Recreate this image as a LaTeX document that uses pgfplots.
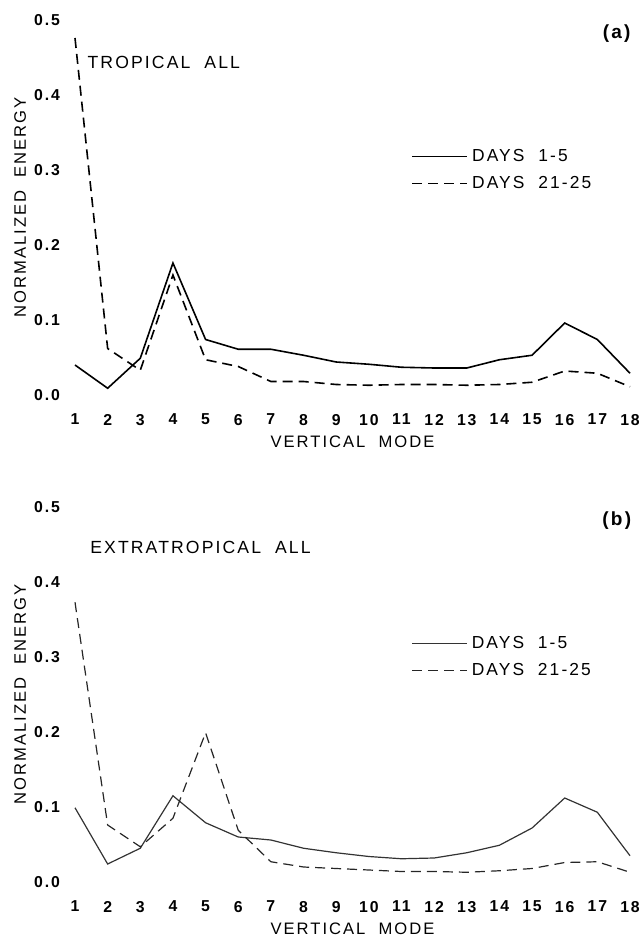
\documentclass[border=0pt]{standalone}
\usepackage{fontspec}
\setmainfont{Liberation Sans}
\newfontfamily\spaced{Liberation Sans}[LetterSpace=12, WordSpace=2]
\usepackage{pgfplots}
\pgfplotsset{compat=1.18}

% mode 1..18, normalized energy
\pgfplotstableread{
mode a15   a2125 b15   b2125
1    0.040 0.476 0.099 0.373
2    0.009 0.062 0.024 0.076
3    0.049 0.033 0.045 0.047
4    0.176 0.160 0.115 0.085
5    0.074 0.047 0.079 0.199
6    0.061 0.038 0.060 0.069
7    0.061 0.018 0.056 0.027
8    0.053 0.018 0.045 0.020
9    0.044 0.014 0.039 0.018
10   0.041 0.013 0.034 0.016
11   0.037 0.014 0.031 0.014
12   0.036 0.014 0.032 0.014
13   0.036 0.013 0.039 0.013
14   0.047 0.014 0.049 0.015
15   0.053 0.017 0.072 0.018
16   0.096 0.032 0.112 0.026
17   0.074 0.029 0.093 0.027
18   0.029 0.011 0.035 0.013
}\energy

\pgfplotsset{
  modeaxis/.style={
    scale only axis, width=277.5bp, height=187.5bp,
    xmin=1, xmax=18, ymin=0, ymax=0.5,
    clip=false,
    axis line style={draw=none},
    major tick length=0pt,
    xtick={1,...,18}, ytick={0,0.1,0.2,0.3,0.4,0.5},
    /pgf/number format/assume math mode=true,
    yticklabel={\pgfmathprintnumber[fixed,fixed zerofill,precision=1]{\tick}},
    tick label style={font=\spaced\fontsize{7.9bp}{9bp}\selectfont\bfseries},
    yticklabel style={xshift=-4bp},
    xticklabel style={yshift=-6bp},
    label style={font=\spaced\fontsize{8.3bp}{10bp}\selectfont},
    xlabel={VERTICAL MODE},
    ylabel={NORMALIZED ENERGY},
    xlabel style={at={(axis description cs:0.5,-0.126)}, anchor=center},
    ylabel style={at={(axis description cs:-0.099,0.5)}, anchor=center},
    legend style={at={(rel axis cs:0.595,0.6)}, anchor=west, draw=none, fill=none,
      font=\spaced\fontsize{8.7bp}{10bp}\selectfont, row sep=2bp},
    legend cell align=left,
    legend image code/.code={\draw[#1] (0bp,0bp) -- (27.5bp,0bp);},
  },
  dashline/.style={black, dash pattern=on 5bp off 3bp},
}

\begin{document}
\begin{tikzpicture}
\begin{axis}[modeaxis, at={(0,0)}]
\addplot[black, line width=0.8bp] table[x=mode, y=a15] {\energy};
\addplot[dashline, line width=0.8bp] table[x=mode, y=a2125] {\energy};
\legend{DAYS 1-5, DAYS 21-25}
\node[anchor=west, inner sep=0pt, font=\spaced\fontsize{8.8bp}{10bp}\selectfont] at (rel axis cs:0.022,0.888) {TROPICAL ALL};
\node[font=\spaced\fontsize{9.5bp}{10bp}\selectfont\bfseries] at (rel axis cs:0.976,0.965) {(a)};
\end{axis}

\begin{axis}[modeaxis, at={(0,-243.5bp)}]
\addplot[black!80, line width=0.6bp] table[x=mode, y=b15] {\energy};
\addplot[dashline, black!85, line width=0.6bp] table[x=mode, y=b2125] {\energy};
\legend{DAYS 1-5, DAYS 21-25}
\node[anchor=west, inner sep=0pt, font=\spaced\fontsize{8.8bp}{10bp}\selectfont] at (rel axis cs:0.027,0.891) {EXTRATROPICAL ALL};
\node[font=\spaced\fontsize{9.5bp}{10bp}\selectfont\bfseries] at (rel axis cs:0.976,0.965) {(b)};
\end{axis}
\pgfresetboundingbox
\useasboundingbox (-37.5bp,-271.5bp) rectangle (284.5bp,197.5bp);
\end{tikzpicture}
\end{document}
